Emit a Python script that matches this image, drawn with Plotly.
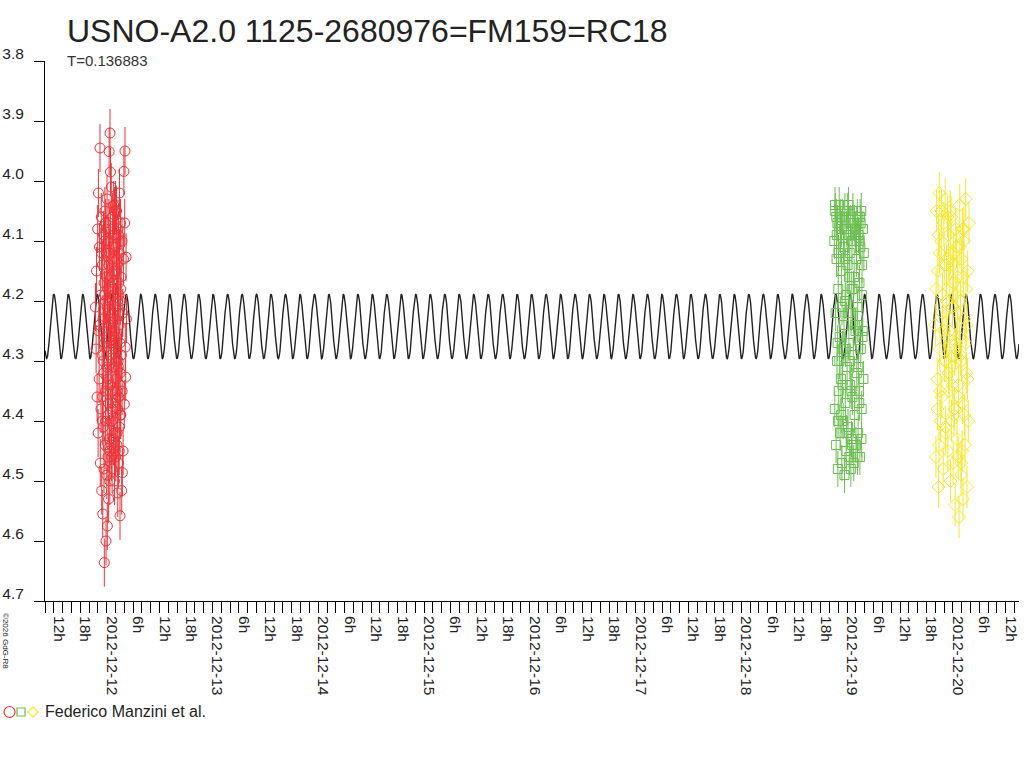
import numpy as np
import pandas as pd
import plotly.graph_objects as go

TITLE = "USNO-A2.0 1125-2680976=FM159=RC18"
SUBTITLE = "T=0.136883"
LEGEND_TEXT = "Federico Manzini et al."
COPYRIGHT = "©2026 GdG-R8"

# model light curve parameters
PERIOD_DAYS = 0.136883
EPOCH_MAX = "2012-12-11 12:01"
MEAN_MAG = 4.2425
AMPLITUDE = 0.0535

X_RANGE = ["2012-12-11 10:00", "2012-12-20 15:00"]
Y_TICKS = [3.8, 3.9, 4.0, 4.1, 4.2, 4.3, 4.4, 4.5, 4.6, 4.7]
DAY_LABELS = ["2012-12-11", "2012-12-12", "2012-12-13", "2012-12-14", "2012-12-15",
              "2012-12-16", "2012-12-17", "2012-12-18", "2012-12-19", "2012-12-20"]
HOUR_LABELS = {6: "6h", 12: "12h", 18: "18h"}

# series 1 (red circles) — hours relative to 2012-12-12 00:00
RED_BASE = "2012-12-12"
red_hours = [-2.55, -2.40, -2.30, -2.18, -2.05, -1.95, -1.88, -1.80, -1.72, -1.62,
             -1.52, -1.45, -1.38, -1.30, -1.22, -1.13, -1.05, -0.98, -0.90, -0.84,
             -0.78, -0.72, -0.66, -0.60, -0.54, -0.48, -0.42, -0.36, -0.30, -0.24,
             -0.16, -0.10, -0.04, 0.02, 0.08, 0.14, 0.20, 0.26, 0.32, 0.38,
             0.44, 0.50, 0.56, 0.62, 0.68, 0.75, 0.80, 0.86, 0.92, 0.98,
             1.04, 1.10, 1.16, 1.22, 1.28, 1.34, 1.40, 1.46, 1.52, 1.58,
             1.64, 1.70, 1.76, 1.82, 1.88, 1.94, 2.00, 2.06, 2.12, 2.18,
             2.24, 2.30, 2.36, 2.42, 2.48, 2.54, 2.60, 2.66, 2.72, 2.78,
             2.84, 2.90, 2.96, 3.02, 3.08, 3.14, 3.20, 3.26, 3.32, 3.40,
             3.48, 3.56, 3.64, 3.72, 3.80, 3.90, 4.00, 4.08, 4.15, 4.22,
             4.30, 4.40, 4.48,
             0.05, 0.35, 0.65, 0.95, 1.25, 1.55, 1.85, 2.15, 2.45, 2.75,
             -0.50, -0.20, -0.80, 1.00, 2.00, 2.50, 1.50, 0.70, 3.00, 3.50,
             -1.00, -1.60, 2.90, 0.30,
             -1.18, -0.95, -0.70, -0.45, -0.22, 0.10, 0.28, 0.48, 0.60, 0.82,
             1.02, 1.18, 1.36, 1.60, 1.78, 1.96, 2.10, 2.28, 2.40, 2.58,
             2.70, 2.86, 3.05, 3.18, -0.62, -0.08, 0.40, 0.90, 1.42, 1.90,
             2.34, 2.80, -0.30, 0.18, 0.72, 1.12, 1.70, 2.22, 2.64, 3.12]
red_mags = [4.21, 4.28, 4.15, 4.36, 4.08, 4.42, 4.02, 4.25, 4.33, 4.11,
            3.945, 4.47, 4.19, 4.38, 4.06, 4.516, 4.29, 4.14, 4.555, 4.23,
            4.41, 4.09, 4.32, 4.17, 4.636, 4.27, 4.05, 4.44, 4.20, 4.35,
            4.60, 4.12, 4.26, 4.49, 4.03, 4.575, 4.18, 4.39, 4.10, 4.30,
            4.53, 4.07, 3.951, 4.24, 4.45, 3.92, 4.34, 3.985, 4.16, 4.40,
            4.01, 4.28, 4.13, 4.48, 4.22, 4.06, 4.37, 4.19, 4.43, 4.04,
            4.31, 4.15, 4.50, 4.25, 4.09, 4.36, 4.21, 4.46, 4.11, 4.33,
            4.05, 4.27, 4.42, 4.14, 4.38, 4.08, 4.30, 4.47, 4.17, 4.24,
            4.45, 4.12, 4.34, 4.558, 4.20, 4.07, 4.39, 4.16, 4.29, 4.516,
            4.10, 4.486, 4.22, 4.45, 4.13, 3.984, 4.372, 4.07, 3.95, 4.277,
            4.327, 4.127, 4.23,
            4.31, 4.22, 4.12, 4.27, 4.35, 4.18, 4.42, 4.26, 4.20, 4.36,
            4.19, 4.08, 4.30, 4.44, 4.04, 4.52, 4.09, 4.50, 4.27, 4.35,
            4.40, 4.24, 4.02, 4.46,
            4.12, 4.36, 4.25, 4.10, 4.40, 4.21, 4.33, 4.14, 4.43, 4.08,
            4.29, 4.38, 4.17, 4.26, 4.05, 4.45, 4.30, 4.13, 4.35, 4.22,
            4.09, 4.41, 4.32, 4.18, 4.48, 4.16, 4.37, 4.23, 4.11, 4.28,
            4.44, 4.19, 4.07, 4.34, 4.20, 4.46, 4.27, 4.15, 4.31, 4.39]
RED_ERR = 0.04

# series 2 (green squares) — hours relative to 2012-12-19 00:00
GREEN_BASE = "2012-12-19"
green_hours = [-2.9, -2.8, -2.7, -2.6, -2.5, -2.4, -2.3, -2.2, -2.1, -2.0,
               -1.9, -1.8, -1.7, -1.6, -1.5, -1.4, -1.3, -1.2, -1.1, -1.0,
               -0.9, -0.8, -0.7, -0.6, -0.5, -0.4, -0.3, -0.2, -0.1, 0.0,
               0.1, 0.2, 0.3, 0.4, 0.5, 0.6, 0.7, 0.8, 0.9, 1.0,
               1.1, 1.2, 1.3, 1.4, 1.5, 1.6, 1.7, 1.8, 1.9, 2.0,
               2.1, 2.2, 2.3, 2.4, 2.5, 2.6, 2.7, 2.8, 2.9, 3.0,
               3.1, 3.2, 3.3, 3.4, 3.5, 3.6, 3.7, 3.8,
               -2.45, -1.25, 0.35, 1.65, 2.85, -0.45, 1.05, 2.25, -1.75, 3.25,
               -2.05, 0.85,
               -2.75, -2.35, -1.95, -1.55, -1.15, -0.75, -0.35, 0.05, 0.45, 0.95,
               1.35, 1.75, 2.15, 2.55, 2.95, 3.35, -2.15, -1.35, -0.55, 0.25,
               1.15, 1.95, 2.75, 3.55, -0.15, 0.65, 1.45, 2.35, -1.05, 3.05]
green_mags = [4.10, 4.38, 4.05, 4.22, 4.44, 4.13, 4.30, 4.07, 4.48, 4.18,
              4.35, 4.04, 4.26, 4.42, 4.09, 4.33, 4.15, 4.47, 4.06, 4.28,
              4.40, 4.11, 4.24, 4.49, 4.05, 4.37, 4.19, 4.45, 4.08, 4.31,
              4.14, 4.41, 4.04, 4.27, 4.46, 4.12, 4.34, 4.07, 4.22, 4.43,
              4.10, 4.36, 4.05, 4.29, 4.47, 4.16, 4.39, 4.08, 4.25, 4.44,
              4.13, 4.32, 4.06, 4.21, 4.42, 4.09, 4.35, 4.17, 4.46, 4.11,
              4.28, 4.05, 4.38, 4.14, 4.26, 4.08, 4.33, 4.12,
              4.06, 4.08, 4.09, 4.07, 4.10, 4.20, 4.18, 4.24, 4.30, 4.43,
              4.40, 4.48,
              4.04, 4.09, 4.12, 4.06, 4.21, 4.08, 4.28, 4.05, 4.16, 4.35,
              4.07, 4.24, 4.10, 4.31, 4.06, 4.19, 4.27, 4.39, 4.13, 4.22,
              4.44, 4.09, 4.37, 4.25, 4.42, 4.30, 4.18, 4.46, 4.34, 4.07]
GREEN_ERR = 0.03

# series 3 (yellow diamonds) — hours relative to 2012-12-20 00:00
YELLOW_BASE = "2012-12-20"
yellow_hours = [-4.0, -3.85, -3.7, -3.55, -3.4, -3.25, -3.1, -2.95, -2.8, -2.65,
                -2.5, -2.35, -2.2, -2.05, -1.9, -1.75, -1.6, -1.45, -1.3, -1.15,
                -1.0, -0.85, -0.7, -0.55, -0.4, -0.25, -0.1, 0.05, 0.2, 0.35,
                0.5, 0.65, 0.8, 0.95, 1.1, 1.25, 1.4, 1.55, 1.7, 1.85,
                2.0, 2.15, 2.3, 2.45, 2.6, 2.75, 2.9, 3.05, 3.2, 3.35,
                3.5, 3.65,
                -3.0, -2.0, -1.0, 0.0, 1.0, 2.0, 3.0, -3.5, -1.5, 0.6,
                1.6, 2.6, -0.6, 1.2, 2.2,
                -3.8, -3.3, -2.9, -2.4, -1.95, -1.55, -1.2, -0.8, -0.35, 0.1,
                0.45, 0.85, 1.3, 1.75, 2.1, 2.5, 2.95, 3.3, -2.6, -1.7,
                -0.95, -0.15, 0.7, 1.45, 2.35, 3.15, -3.15, -0.5, 1.9, 0.25]
yellow_mags = [4.24, 4.46, 4.05, 4.33, 4.15, 4.51, 4.02, 4.28, 4.40, 4.10,
               4.36, 4.19, 4.48, 4.07, 4.30, 4.03, 4.42, 4.14, 4.26, 4.45,
               4.09, 4.35, 4.18, 4.50, 4.06, 4.31, 4.21, 4.47, 4.12, 4.38,
               4.54, 4.08, 4.27, 4.43, 4.16, 4.34, 4.56, 4.04, 4.29, 4.49,
               4.13, 4.37, 4.53, 4.10, 4.23, 4.44, 4.03, 4.32, 4.51, 4.15,
               4.40, 4.07,
               4.12, 4.25, 4.32, 4.14, 4.22, 4.30, 4.18, 4.38, 4.20, 4.28,
               4.11, 4.39, 4.05, 4.46, 4.08,
               4.18, 4.09, 4.35, 4.22, 4.14, 4.30, 4.06, 4.25, 4.40, 4.17,
               4.29, 4.11, 4.36, 4.20, 4.45, 4.08, 4.27, 4.33, 4.05, 4.41,
               4.13, 4.34, 4.19, 4.26, 4.16, 4.24, 4.44, 4.12, 4.47, 4.39]
YELLOW_ERR = 0.035

RED = "#ee3338"
GREEN = "#6abf50"
YELLOW = "#f6e829"
INK = "#222222"
FONT = "Liberation Sans, Arial, sans-serif"


def to_times(base, hours):
    return pd.Timestamp(base) + pd.to_timedelta(np.array(hours), unit="h")


fig = go.Figure()

# model curve
t0 = pd.Timestamp(X_RANGE[0])
t1 = pd.Timestamp(X_RANGE[1])
tgrid = pd.date_range(t0, t1, periods=4000)
phase = (tgrid - pd.Timestamp(EPOCH_MAX)) / pd.Timedelta(days=1) / PERIOD_DAYS
model = MEAN_MAG - AMPLITUDE * np.cos(2 * np.pi * np.asarray(phase, dtype=float))
fig.add_trace(go.Scatter(x=tgrid, y=model, mode="lines",
                         line=dict(color=INK, width=1.4), hoverinfo="skip"))

for base, hrs, mags, err, col, sym, size in [
    (RED_BASE, red_hours, red_mags, RED_ERR, RED, "circle-open", 10),
    (GREEN_BASE, green_hours, green_mags, GREEN_ERR, GREEN, "square-open", 9),
    (YELLOW_BASE, yellow_hours, yellow_mags, YELLOW_ERR, YELLOW, "diamond-open", 10),
]:
    fig.add_trace(go.Scatter(
        x=to_times(base, hrs), y=mags, mode="markers",
        marker=dict(symbol=sym, size=size, color=col, line=dict(color=col, width=1)),
        error_y=dict(type="constant", value=err, thickness=1, width=0, color=col),
    ))

# x ticks every 6h with labels
tickvals, ticktext = [], []
for d in DAY_LABELS:
    day = pd.Timestamp(d)
    tickvals.append(day)
    ticktext.append(d)
    for h, lab in HOUR_LABELS.items():
        tickvals.append(day + pd.Timedelta(hours=h))
        ticktext.append(lab)

PLOT_L, PLOT_R, PLOT_T, PLOT_B = 45, 1019, 61, 601
W = PLOT_R - PLOT_L
H = PLOT_B - PLOT_T


def px(x):
    return (x - PLOT_L) / W


def py(y):
    return (PLOT_B - y) / H


fig.update_layout(
    width=1024, height=768,
    margin=dict(l=PLOT_L, r=1024 - PLOT_R, t=PLOT_T, b=768 - PLOT_B, pad=0),
    paper_bgcolor="white", plot_bgcolor="white",
    showlegend=False,
    font=dict(family=FONT, color=INK, size=15.5),
    xaxis=dict(
        type="date", range=X_RANGE, showgrid=False, zeroline=False, automargin=False,
        showline=True, linecolor="black", linewidth=1,
        tickmode="array", tickvals=tickvals, ticktext=ticktext,
        ticks="outside", ticklen=11, tickcolor="black", tickwidth=1,
        tickangle=90, ticklabelshift=5,
        tickfont=dict(family=FONT, size=15.5, color=INK),
        minor=dict(dtick=2 * 3600 * 1000, tick0="2012-12-12", ticks="outside",
                   ticklen=11, tickcolor="black", tickwidth=1, showgrid=False),
    ),
    yaxis=dict(
        range=[Y_TICKS[-1], Y_TICKS[0]], showgrid=False, zeroline=False, automargin=False,
        showline=True, linecolor="black", linewidth=1,
        tickmode="array", tickvals=Y_TICKS, ticktext=[f"{v:.1f}" for v in Y_TICKS],
        ticks="outside", ticklen=10, tickcolor="black", tickwidth=1,
        ticklabelshift=7, ticklabelstandoff=7,
        tickfont=dict(family=FONT, size=15.5, color=INK),
    ),
    annotations=[
        dict(text=TITLE, xref="paper", yref="paper", x=px(65), y=py(31),
             xanchor="left", yanchor="middle", showarrow=False,
             font=dict(family=FONT, size=32, color=INK)),
        dict(text=SUBTITLE, xref="paper", yref="paper", x=px(65), y=py(60),
             xanchor="left", yanchor="middle", showarrow=False,
             font=dict(family=FONT, size=15, color="#333333")),
        dict(text=LEGEND_TEXT, xref="paper", yref="paper", x=px(43), y=py(711),
             xanchor="left", yanchor="middle", showarrow=False,
             font=dict(family=FONT, size=16, color=INK)),
        dict(text=COPYRIGHT, xref="paper", yref="paper", x=px(5), y=py(641),
             xanchor="center", yanchor="middle", showarrow=False, textangle=90,
             font=dict(family=FONT, size=8, color=INK)),
    ],
    shapes=[
        dict(type="circle", xref="paper", yref="paper", xsizemode="pixel", ysizemode="pixel",
             xanchor=0, yanchor=0, x0=-41, x1=-30, y0=-116.5, y1=-105.5,
             line=dict(color=RED, width=1.2)),
        dict(type="rect", xref="paper", yref="paper", xsizemode="pixel", ysizemode="pixel",
             xanchor=0, yanchor=0, x0=-28, x1=-20, y0=-115, y1=-107,
             line=dict(color=GREEN, width=1.2)),
        dict(type="path", xref="paper", yref="paper", xsizemode="pixel", ysizemode="pixel",
             xanchor=0, yanchor=0, path="M -17 -111 L -12 -106 L -7 -111 L -12 -116 Z",
             line=dict(color=YELLOW, width=1.2)),
    ],
)

fig.write_html("out.html", config={"displayModeBar": False},
               post_script="document.body.style.margin='0';")
